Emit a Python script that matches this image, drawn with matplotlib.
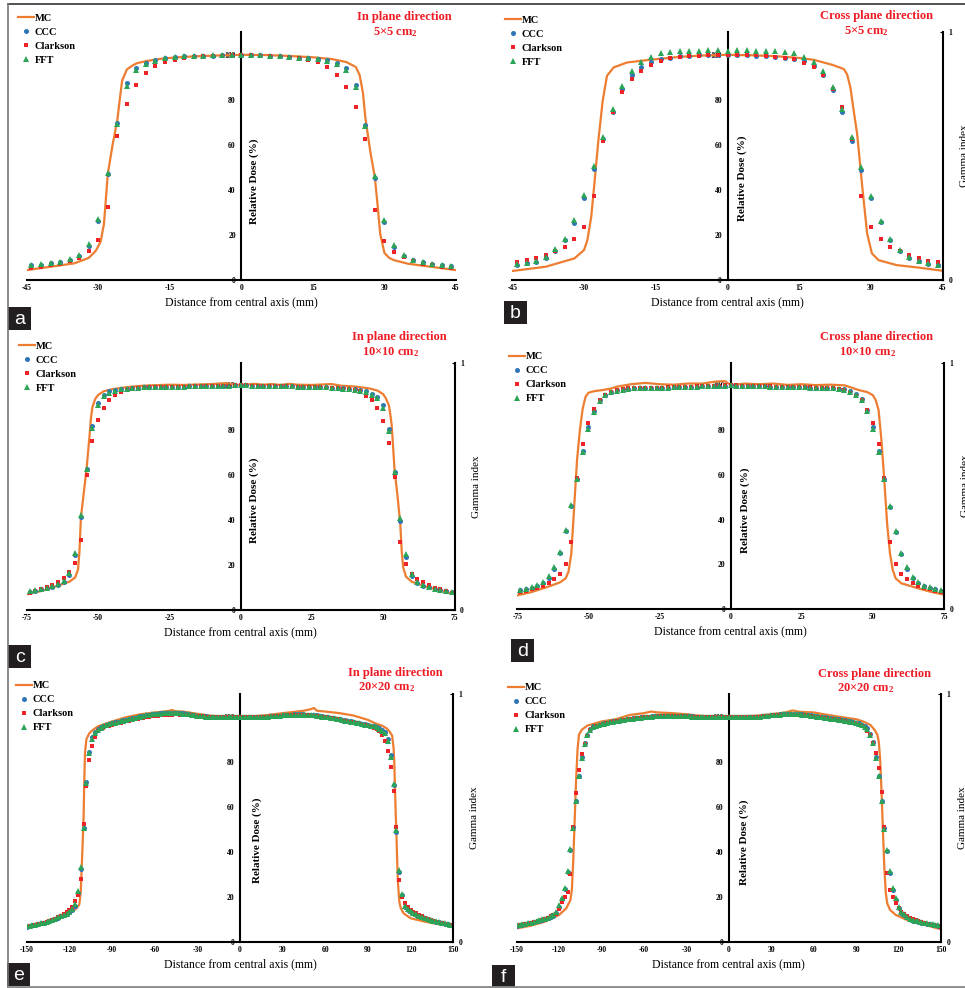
import matplotlib.pyplot as plt
import matplotlib.patches as patches
from matplotlib.lines import Line2D
import numpy as np

plt.rcParams['font.family'] = 'Liberation Serif'
plt.rcParams['font.weight'] = 'bold'
plt.rcParams['axes.unicode_minus'] = False
plt.rcParams['mathtext.fontset'] = 'custom'
plt.rcParams['mathtext.rm'] = 'Liberation Serif:bold'

W, H = 965, 988

# ---------------- 5x5 cm2 ----------------
x_5 = np.arange(-44, 45, 2)

# in plane
ccc_a = [6.5, 6.8, 7.4, 8.0, 9.0, 10.8, 14.9, 26.4, 46.9, 69.9,
         87.3, 94.0, 96.5, 97.5, 98.5, 99.0, 99.3, 99.4, 99.6, 99.6,
         99.7, 99.8, 100.0, 99.9, 99.7, 99.6, 99.4, 99.1, 98.8, 98.6,
         98.2, 97.6, 96.5, 94.0, 86.7, 68.9, 45.4, 25.7, 14.7, 10.6,
         8.8, 7.8, 7.2, 6.6, 6.3]
clk_a = [5.5, 5.9, 6.5, 7.2, 8.4, 9.9, 12.7, 17.7, 32.2, 63.9,
         78.0, 86.4, 91.9, 95.0, 96.9, 97.9, 98.7, 99.0, 99.3, 99.4,
         99.6, 99.8, 100.0, 99.7, 99.6, 99.4, 99.1, 98.8, 98.4, 97.8,
         96.6, 94.5, 91.2, 85.7, 76.8, 62.5, 31.1, 17.4, 12.5, 10.0,
         8.3, 7.2, 6.5, 5.9, 5.3]
fft_a = [6.6, 6.9, 7.5, 8.2, 9.3, 11.3, 16.0, 27.3, 47.5, 69.3,
         86.0, 93.3, 96.0, 97.3, 98.4, 99.0, 99.3, 99.5, 99.6, 99.7,
         99.7, 99.8, 100.0, 99.9, 99.8, 99.6, 99.4, 99.1, 98.8, 98.5,
         98.0, 97.3, 96.0, 93.3, 85.8, 68.5, 46.3, 26.7, 15.5, 10.9,
         9.0, 7.9, 7.3, 6.7, 6.4]
mc_a_x = [-45, -40, -35, -32, -30.5, -29.5, -28.8, -28, -27, -26,
          -25.5, -25, -24, -23, -22, -20, -17, -14, -10, -5,
          0, 5, 10, 15, 19, 22, 24, 24.8, 25.5, 26,
          27, 28, 28.6, 29.1, 30, 31, 32, 35, 40, 45]
mc_a = [4.4, 5.9, 7.4, 9.8, 13, 17, 25, 47, 60, 71,
        80, 88.5, 93.5, 95, 96.2, 97.2, 98.2, 98.8, 99.3, 99.7,
        100, 99.9, 99.5, 98.9, 98.1, 96.8, 94.6, 91, 83, 72,
        57.5, 45.4, 32.4, 20.6, 12, 9.8, 8.8, 7.2, 5.8, 4.4]

# cross plane
ccc_b = [6.6, 7.4, 8.1, 9.9, 13.0, 17.7, 25.5, 36.4, 49.1, 62.8,
         74.6, 84.7, 90.9, 94.7, 96.8, 98.1, 98.8, 99.3, 99.6, 99.7,
         99.7, 99.9, 100.0, 99.9, 99.7, 99.6, 99.4, 99.1, 98.8, 98.2,
         97.2, 95.0, 91.0, 84.5, 74.6, 61.9, 49.0, 36.4, 25.7, 17.7,
         13.0, 9.9, 8.3, 7.2, 6.5]
clk_b = [7.8, 8.7, 9.9, 11.2, 13.0, 14.7, 18.1, 23.6, 37.2, 61.7,
         74.5, 83.6, 89.1, 92.9, 95.4, 97.2, 98.4, 99.0, 99.4, 99.6,
         99.9, 100.0, 100.1, 100.0, 99.9, 99.7, 99.4, 99.1, 98.7, 98.1,
         96.5, 94.4, 91.0, 84.8, 76.7, 62.7, 37.2, 23.6, 18.0, 14.6,
         12.8, 11.1, 9.6, 8.6, 7.8]
fft_b = [6.9, 7.7, 8.6, 10.3, 13.6, 18.4, 26.5, 37.6, 50.6, 63.6,
         76.0, 86.0, 92.8, 96.6, 99.0, 100.7, 101.2, 101.5, 101.8, 101.8,
         102.0, 102.1, 101.8, 102.0, 102.1, 101.8, 101.8, 101.5, 101.2, 100.6,
         99.1, 97.0, 92.8, 85.8, 76.0, 63.4, 50.4, 37.5, 26.3, 18.4,
         13.3, 10.3, 8.4, 7.4, 6.8]
mc_b_x = [-45, -38, -32, -30, -29.3, -28.5, -27.9, -27, -26.1, -25.2,
          -23.8, -21, -17, -10, -5, 0, 5, 10, 15, 18,
          22, 24.3, 25, 25.7, 26.4, 27.1, 28.2, 29.2, 30.2, 31.6,
          35.4, 40, 45]
mc_b = [4.0, 5.9, 9.6, 13.3, 17.7, 28, 41.3, 62, 79.6, 90.7,
        94.4, 96.6, 97.6, 99.1, 99.7, 100, 99.8, 99.4, 98.6, 97.8,
        95.5, 93.7, 91.4, 85.5, 75, 65, 41, 20.6, 11.8, 8.8,
        6.6, 5.5, 4.1]

# ---------------- 10x10 cm2 ----------------
x_10 = np.arange(-74, 75, 2)

# in plane
ccc_c = [8.1, 8.6, 9.2, 9.8, 10.4, 11.1, 12.4, 15.6, 24.4, 41.2,
         62.8, 81.8, 92.1, 95.7, 97.3, 97.8, 98.2, 98.5, 98.8,
         98.9, 99.0, 99.1, 99.2, 99.2, 99.3, 99.3, 99.4, 99.4,
         99.5, 99.5, 99.6, 99.6, 99.7, 99.7, 99.8, 99.8, 99.9,
         100.0,
         99.9, 99.8, 99.8, 99.7, 99.7, 99.6, 99.6, 99.5, 99.5,
         99.4, 99.3, 99.3, 99.2, 99.1, 99.0, 98.9, 98.8, 98.6,
         98.4, 98.2, 97.8, 97.2, 96.2, 94.6, 91.0, 80.6, 61.5, 39.7,
         23.7, 15.1, 12.1, 10.8, 10.1, 9.3, 8.9, 8.4, 7.9]
clk_c = [7.7, 8.4, 9.2, 10.1, 11.0, 12.3, 14.1, 16.7, 20.9, 31.0,
         60.1, 75.1, 84.4, 89.9, 93.6, 95.7, 96.9, 97.8, 98.4,
         98.7, 98.9, 99.0, 99.1, 99.2, 99.2, 99.3, 99.3, 99.4,
         99.4, 99.5, 99.5, 99.6, 99.7, 99.7, 99.8, 99.8, 99.9,
         100.0,
         99.9, 99.8, 99.8, 99.7, 99.7, 99.6, 99.5, 99.5, 99.4,
         99.3, 99.3, 99.2, 99.1, 99.0, 98.9, 98.8, 98.6, 98.4,
         98.2, 97.8, 97.2, 95.4, 93.3, 89.8, 83.9, 74.4, 59.3, 30.1,
         20.6, 16.0, 13.9, 12.3, 11.0, 9.9, 9.2, 8.4, 7.7]
fft_c = [8.3, 8.8, 9.4, 10.0, 10.6, 11.4, 12.9, 16.3, 25.5, 42.2,
         62.8, 81.0, 91.0, 95.0, 96.6, 97.6, 98.1, 98.5, 98.8,
         98.9, 99.0, 99.1, 99.2, 99.2, 99.3, 99.3, 99.4, 99.4,
         99.5, 99.5, 99.6, 99.6, 99.7, 99.7, 99.8, 99.8, 99.9,
         100.0,
         99.9, 99.8, 99.8, 99.7, 99.7, 99.6, 99.6, 99.5, 99.5,
         99.4, 99.3, 99.3, 99.2, 99.1, 99.0, 98.9, 98.7, 98.5,
         98.3, 98.0, 97.6, 96.9, 95.8, 94.1, 90.0, 79.7, 61.5, 40.9,
         24.7, 15.9, 12.3, 10.9, 10.2, 9.4, 9.0, 8.5, 8.0]
mc_c_x = [-75, -70, -65, -60, -58, -57, -56.5, -56, -55, -54,
          -53, -52.5, -52, -51, -50, -48, -45, -40, -35, -30,
          -25, -20, -15, -10, -7, -5, -3, 0, 3, 5,
          8, 11, 14, 17, 20, 25, 30, 32, 35, 40,
          45, 48, 50, 51, 52, 52.5, 53, 54, 55, 56,
          56.5, 57, 58, 60, 65, 70, 75]
mc_c = [7, 8.4, 10.4, 12.6, 14.5, 18, 26, 41, 52, 63,
        77, 85, 90, 93.8, 95.6, 97.3, 98.2, 99.1, 99.7, 100,
        100.2, 100.1, 100.3, 100.5, 100.8, 100.9, 100.4, 100, 100.4, 100.6,
        100.2, 100.5, 100.1, 100.6, 100.2, 100.1, 100.4, 100.5, 99.8, 99.4,
        98.6, 97.6, 96, 94, 91, 87, 82, 62, 51, 38,
        26, 19, 14.8, 12.6, 10.4, 8.6, 7.1]

# cross plane
ccc_d = [8.5, 8.9, 9.7, 10.5, 11.9, 14.0, 18.1, 25.0, 34.9, 46.1,
         58.2, 70.7, 81.1, 88.4, 93.2, 95.5, 96.9, 97.6, 98.1,
         98.3, 98.5, 98.6, 98.6, 98.7, 98.8, 98.8, 98.9, 99.0,
         99.0, 99.1, 99.2, 99.3, 99.4, 99.5, 99.6, 99.7, 99.8,
         100.0,
         99.8, 99.7, 99.6, 99.5, 99.5, 99.4, 99.3, 99.3, 99.2,
         99.1, 99.1, 99.0, 99.0, 98.9, 98.9, 98.8, 98.7, 98.6,
         98.4, 98.1, 97.3, 96.1, 93.8, 88.9, 81.1, 70.6, 58.0, 45.5,
         34.5, 24.5, 18.1, 14.1, 11.6, 10.3, 9.5, 8.9, 8.3]
clk_d = [7.7, 8.2, 8.9, 9.7, 10.5, 11.9, 13.5, 15.9, 20.1, 29.9,
         58.5, 73.8, 83.1, 89.2, 93.3, 95.7, 97.0, 97.9, 98.3,
         98.5, 98.6, 98.7, 98.7, 98.8, 98.9, 98.9, 99.0, 99.1,
         99.1, 99.2, 99.3, 99.4, 99.5, 99.6, 99.7, 99.8, 99.9,
         100.0,
         99.9, 99.8, 99.7, 99.6, 99.5, 99.5, 99.4, 99.3, 99.3,
         99.2, 99.1, 99.1, 99.0, 99.0, 98.9, 98.8, 98.7, 98.5,
         98.2, 97.6, 96.7, 95.2, 93.2, 88.9, 83.1, 73.8, 58.5, 30.2,
         20.1, 15.9, 13.7, 11.9, 10.5, 9.7, 8.9, 8.3, 7.6]
fft_d = [8.7, 9.2, 10.0, 10.9, 12.4, 14.7, 18.9, 25.7, 35.4, 46.6,
         58.2, 70.3, 80.6, 88.0, 93.0, 95.4, 96.8, 97.5, 98.0,
         98.3, 98.5, 98.6, 98.6, 98.7, 98.8, 98.8, 98.9, 99.0,
         99.0, 99.1, 99.2, 99.3, 99.4, 99.5, 99.6, 99.7, 99.8,
         100.0,
         99.8, 99.7, 99.6, 99.5, 99.5, 99.4, 99.3, 99.3, 99.2,
         99.1, 99.1, 99.0, 99.0, 98.9, 98.9, 98.8, 98.7, 98.6,
         98.3, 97.9, 97.0, 95.8, 93.4, 88.4, 80.6, 70.3, 58.2, 46.0,
         35.0, 25.2, 18.7, 14.6, 12.0, 10.6, 9.8, 9.1, 8.5]
mc_d_x = [-75, -70, -65, -60, -58, -57, -56, -55, -54, -53,
          -52, -51, -50, -48, -45, -42, -40, -35, -30, -25,
          -20, -15, -10, -5, -2, 0, 5, 10, 15, 20,
          25, 30, 35, 40, 42, 45, 48, 50, 51, 52,
          53, 54, 55, 56, 57, 58, 60, 65, 70, 75]
mc_d = [6.2, 7.7, 9.7, 12, 13.8, 16.8, 25, 45.8, 66.6, 80,
        89.6, 94.8, 96.6, 97.3, 97.8, 98.5, 99.3, 100.4, 101, 100.4,
        100.2, 100.7, 100.7, 101.6, 101.8, 100, 100.7, 100.4, 100.7, 100.1,
        100.4, 100, 100.2, 99.9, 99.1, 97.8, 96.9, 95.5, 93.3, 88.9,
        75.5, 57.7, 38.3, 25, 17.5, 13.8, 11.6, 9.7, 7.9, 6.5]

# ---------------- 20x20 cm2 ----------------
x_20 = np.arange(-150, 151, 2)

# in plane
ccc_e = [6.7, 7.0, 7.2, 7.5, 7.8, 8.1, 8.4, 8.8, 9.2, 9.7,
         10.2, 10.7, 11.2, 11.7, 12.3, 13.0, 14.0, 16.0, 21.5, 32.4,
         50.4, 71.1, 84.4, 90.8, 93.0,
         94.5, 95.3, 95.9, 96.4, 96.8, 97.1, 97.4, 97.7, 98.0, 98.3,
         98.6, 98.9, 99.2, 99.5, 99.8, 100.1, 100.4, 100.6, 100.8, 101.0,
         101.2, 101.3, 101.4, 101.5, 101.6, 101.6, 101.7, 101.7, 101.6, 101.5,
         101.4, 101.2, 101.0, 100.8, 100.6, 100.4, 100.3, 100.2, 100.1, 100.0,
         100.0, 99.9, 99.9, 99.9, 99.9, 100.0, 100.0, 100.0, 100.0, 100.0,
         100.0,
         100.0, 100.0, 100.0, 100.0, 100.0, 100.0, 100.0, 100.0, 100.0, 100.0,
         100.1, 100.2, 100.3, 100.4, 100.5, 100.6, 100.7, 100.8, 100.9, 100.9,
         100.9, 100.9, 100.8, 100.8, 100.7, 100.6, 100.5, 100.3, 100.1, 99.9,
         99.7, 99.5, 99.3, 99.0, 98.8, 98.5, 98.3, 98.0, 97.8, 97.5,
         97.3, 97.0, 96.8, 96.5, 96.3, 96.0, 95.7, 95.3, 94.8, 94.0,
         93.0, 89.9, 83.0, 69.6, 48.9, 31.1, 20.7, 15.6, 14.1, 13.3,
         12.6, 11.9, 11.4, 10.9, 10.4, 10.0, 9.6, 9.2, 8.9, 8.6,
         8.3, 8.0, 7.7, 7.4, 7.1]
clk_e = [6.5, 6.8, 7.1, 7.4, 7.7, 8.0, 8.4, 8.8, 9.3, 9.8,
         10.3, 10.9, 11.5, 12.2, 13.0, 14.0, 15.6, 18.0, 20.7, 27.9,
         52.1, 69.3, 80.7, 87.0, 90.8,
         93.6, 94.5, 95.1, 95.6, 96.0, 96.4, 96.7, 97.0, 97.3, 97.6,
         97.9, 98.2, 98.5, 98.8, 99.0, 99.3, 99.5, 99.7, 99.9, 100.1,
         100.3, 100.4, 100.5, 100.6, 100.7, 100.8, 100.8, 100.9, 100.9, 100.8,
         100.8, 100.7, 100.6, 100.5, 100.4, 100.3, 100.2, 100.1, 100.0, 100.0,
         99.9, 99.9, 99.9, 99.9, 99.9, 100.0, 100.0, 100.0, 100.0, 100.0,
         100.0,
         100.0, 100.0, 100.0, 100.0, 100.0, 100.0, 100.0, 100.0, 100.0, 100.0,
         100.1, 100.1, 100.2, 100.3, 100.4, 100.4, 100.5, 100.5, 100.6, 100.6,
         100.6, 100.6, 100.5, 100.5, 100.4, 100.3, 100.2, 100.0, 99.8, 99.6,
         99.4, 99.2, 99.0, 98.7, 98.5, 98.2, 98.0, 97.7, 97.5, 97.2,
         97.0, 96.7, 96.4, 96.1, 95.8, 95.4, 95.0, 94.5, 93.6, 91.6,
         89.3, 84.9, 77.8, 67.0, 50.8, 27.4, 19.7, 17.3, 15.6, 14.1,
         13.3, 12.6, 11.9, 11.3, 10.7, 10.2, 9.7, 9.3, 8.9, 8.5,
         8.1, 7.8, 7.5, 7.2, 6.9]
fft_e = [6.8, 7.1, 7.3, 7.6, 7.9, 8.2, 8.5, 8.9, 9.3, 9.8,
         10.3, 10.8, 11.3, 11.9, 12.5, 13.3, 14.5, 16.8, 22.5, 33.3,
         50.5, 70.4, 83.7, 90.0, 92.5,
         94.2, 95.1, 95.8, 96.3, 96.7, 97.0, 97.3, 97.6, 97.9, 98.2,
         98.5, 98.8, 99.1, 99.4, 99.7, 100.0, 100.3, 100.5, 100.7, 100.9,
         101.1, 101.2, 101.3, 101.4, 101.5, 101.5, 101.6, 101.6, 101.5, 101.4,
         101.3, 101.1, 100.9, 100.7, 100.5, 100.3, 100.2, 100.1, 100.0, 100.0,
         99.9, 99.9, 99.9, 99.9, 99.9, 100.0, 100.0, 100.0, 100.0, 100.0,
         100.0,
         100.0, 100.0, 100.0, 100.0, 100.0, 100.0, 100.0, 100.0, 100.0, 100.0,
         100.1, 100.2, 100.3, 100.4, 100.5, 100.6, 100.7, 100.7, 100.8, 100.8,
         100.8, 100.8, 100.7, 100.7, 100.6, 100.5, 100.4, 100.2, 100.0, 99.8,
         99.6, 99.4, 99.2, 98.9, 98.7, 98.4, 98.2, 97.9, 97.7, 97.4,
         97.2, 96.9, 96.7, 96.4, 96.2, 95.9, 95.6, 95.2, 94.6, 93.7,
         92.5, 89.3, 82.0, 69.9, 49.4, 32.0, 21.3, 16.0, 14.4, 13.5,
         12.8, 12.1, 11.6, 11.1, 10.6, 10.2, 9.8, 9.4, 9.1, 8.8,
         8.5, 8.2, 7.9, 7.6, 7.3]
mc_e_x = [-150, -140, -130, -120, -115, -113, -112, -111, -110, -109.5,
          -109, -108, -106, -104, -100, -90, -80, -70, -60, -55,
          -50, -48, -45, -40, -30, -20, -10, 0, 10, 20,
          30, 40, 45, 50, 52, 54, 55, 60, 70, 80,
          90, 95, 100, 103, 105, 107, 108, 108.5, 109, 109.5,
          110, 110.5, 111, 112, 113, 115, 120, 130, 140, 150]
mc_e = [6.2, 7.4, 9.3, 12.3, 14.8, 16.5, 22, 38, 55, 72,
        84, 90, 92.5, 93.8, 95.6, 97.8, 99.7, 101, 101.8, 102.1,
        102.5, 102.9, 102.3, 102.2, 101.2, 100.3, 100, 100, 100.1, 100.7,
        101.5, 102.2, 102.6, 103.3, 103.8, 102.6, 102.5, 102.2, 101.5, 100.4,
        98.5, 97, 95.9, 94.8, 93.5, 91.5, 86, 80, 68, 57,
        48, 37, 27, 18, 15, 12.6, 10.4, 8.9, 7.7, 6.7]

# cross plane
ccc_f = [7.1, 7.4, 7.6, 7.9, 8.1, 8.4, 8.7, 9.0, 9.4, 9.8,
         10.1, 10.5, 11.0, 11.6, 12.9, 15.6, 18.8, 23.3, 30.8, 40.7,
         50.8, 62.7, 73.8, 82.2, 88.1,
         91.9, 94.4, 95.6, 96.0, 96.3, 96.6, 96.9, 97.2, 97.5, 97.8,
         98.0, 98.2, 98.4, 98.6, 98.8, 99.0, 99.2, 99.4, 99.5, 99.6,
         99.7, 99.8, 100.0, 100.1, 100.2, 100.3, 100.4, 100.4, 100.4, 100.4,
         100.4, 100.4, 100.3, 100.3, 100.3, 100.3, 100.2, 100.1, 100.0, 100.0,
         100.0, 100.0, 100.0, 100.0, 100.0, 100.0, 100.0, 100.0, 100.0, 100.0,
         100.0,
         100.0, 100.0, 100.0, 100.0, 100.0, 100.0, 100.0, 100.0, 100.0, 100.0,
         100.0, 100.1, 100.2, 100.4, 100.6, 100.7, 100.8, 100.9, 101.0, 101.0,
         101.0, 101.0, 101.0, 101.0, 101.0, 100.9, 100.8, 100.6, 100.5, 100.3,
         100.1, 99.9, 99.7, 99.6, 99.4, 99.2, 99.0, 98.9, 98.7, 98.5,
         98.3, 98.0, 97.8, 97.5, 97.3, 96.9, 96.3, 95.6, 94.7, 92.3,
         88.6, 82.2, 73.6, 62.7, 50.4, 40.4, 30.4, 23.0, 18.5, 15.1,
         12.9, 11.8, 10.9, 10.1, 9.4, 9.1, 8.8, 8.5, 8.2, 7.9,
         7.7, 7.5, 7.3, 7.1, 7.0]
clk_f = [6.9, 7.2, 7.4, 7.7, 8.0, 8.3, 8.6, 8.9, 9.3, 9.7,
         10.1, 10.6, 11.2, 11.8, 12.5, 14.5, 17.5, 19.7, 22.0, 30.1,
         51.1, 66.2, 76.3, 83.3, 88.0,
         91.5, 93.8, 95.0, 95.6, 96.0, 96.4, 96.7, 97.0, 97.3, 97.6,
         97.8, 98.0, 98.2, 98.4, 98.6, 98.8, 99.0, 99.2, 99.4, 99.5,
         99.6, 99.7, 99.8, 99.9, 100.0, 100.1, 100.2, 100.2, 100.2, 100.2,
         100.2, 100.2, 100.2, 100.1, 100.1, 100.1, 100.0, 100.0, 100.0, 100.0,
         100.0, 100.0, 100.0, 100.0, 100.0, 100.0, 100.0, 100.0, 100.0, 100.0,
         100.0,
         100.0, 100.0, 100.0, 100.0, 100.0, 100.0, 100.0, 100.0, 100.0, 100.0,
         100.0, 100.1, 100.2, 100.3, 100.4, 100.5, 100.6, 100.7, 100.8, 100.8,
         100.8, 100.8, 100.8, 100.8, 100.7, 100.6, 100.5, 100.4, 100.2, 100.0,
         99.8, 99.6, 99.4, 99.3, 99.1, 98.9, 98.7, 98.5, 98.3, 98.1,
         97.9, 97.6, 97.3, 97.0, 96.7, 96.3, 95.7, 94.8, 93.7, 91.9,
         88.1, 83.7, 77.0, 66.4, 50.8, 30.4, 23.0, 19.7, 17.3, 14.8,
         13.3, 12.3, 11.4, 10.7, 10.0, 9.5, 9.0, 8.6, 8.2, 7.9,
         7.6, 7.3, 7.1, 6.9, 6.7]
fft_f = [7.2, 7.5, 7.7, 8.0, 8.2, 8.5, 8.8, 9.1, 9.5, 9.9,
         10.3, 10.7, 11.2, 11.9, 13.3, 16.2, 19.4, 24.0, 31.5, 41.0,
         50.5, 62.5, 73.5, 81.8, 87.8,
         91.6, 94.2, 95.5, 95.9, 96.2, 96.5, 96.8, 97.1, 97.4, 97.7,
         97.9, 98.1, 98.3, 98.5, 98.7, 98.9, 99.1, 99.3, 99.4, 99.5,
         99.6, 99.7, 99.9, 100.0, 100.1, 100.2, 100.3, 100.3, 100.3, 100.3,
         100.3, 100.3, 100.2, 100.2, 100.2, 100.2, 100.1, 100.0, 100.0, 100.0,
         100.0, 100.0, 100.0, 100.0, 100.0, 100.0, 100.0, 100.0, 100.0, 100.0,
         100.0,
         100.0, 100.0, 100.0, 100.0, 100.0, 100.0, 100.0, 100.0, 100.0, 100.0,
         100.0, 100.1, 100.2, 100.3, 100.5, 100.6, 100.7, 100.8, 100.9, 100.9,
         100.9, 100.9, 100.9, 100.9, 100.9, 100.8, 100.7, 100.5, 100.4, 100.2,
         100.0, 99.8, 99.6, 99.5, 99.3, 99.1, 98.9, 98.8, 98.6, 98.4,
         98.2, 97.9, 97.7, 97.4, 97.2, 96.8, 96.2, 95.4, 94.4, 91.9,
         88.1, 81.8, 73.4, 62.4, 50.1, 40.9, 31.3, 24.0, 19.2, 15.6,
         13.3, 12.1, 11.1, 10.3, 9.6, 9.3, 9.0, 8.7, 8.4, 8.1,
         7.9, 7.7, 7.5, 7.3, 7.2]
mc_f_x = [-150, -140, -130, -120, -115, -112, -111, -110, -109, -108,
          -107, -106, -104, -100, -90, -80, -70, -60, -55, -50,
          -40, -30, -20, -10, 0, 10, 20, 30, 40, 45,
          50, 60, 70, 80, 90, 95, 100, 103, 105, 106,
          107, 108, 109, 110, 111, 112, 114, 118, 125, 135,
          150]
mc_f = [5.9, 7.1, 8.9, 11.9, 14.8, 18.5, 23, 36.3, 54.1, 71.9,
        85.2, 91.9, 94.1, 96, 97.8, 98.8, 100.7, 101.5, 102.2, 101.8,
        101.5, 101, 100.3, 100, 100, 100, 100.4, 101, 101.8, 102.7,
        102.1, 101.8, 100.7, 99.7, 98.8, 97.8, 96.3, 94.1, 91.9, 88.9,
        80.7, 65.9, 48.1, 31.9, 21.5, 17, 14.1, 11.9, 9.9, 8.1,
        5.5]

# ----------------------------------------
# panel layout, pixel boxes: (left, top, right, bottom)
panels = [
    dict(x=x_5, ccc=ccc_a, clk=clk_a, fft=fft_a, mc_x=mc_a_x, mc=mc_a,
         lim=45, step=15, box=(26.7, 32.3, 456, 280), gamma=False,
         title='In plane direction', size='5×5', t1=(404, 17.3), t2=(395, 32),
         leg=(18, 18), letter='a', lbox=(8, 307), dose=(44, 13)),
    dict(x=x_5, ccc=ccc_b, clk=clk_b, fft=fft_b, mc_x=mc_b_x, mc=mc_b,
         lim=45, step=15, box=(512.3, 32.3, 942.7, 280), gamma=True,
         title='Cross plane direction', size='5×5', t1=(876, 16), t2=(866, 30.7),
         leg=(505, 20), letter='b', lbox=(504, 301), dose=(45, 15)),
    dict(x=x_10, ccc=ccc_c, clk=clk_c, fft=fft_c, mc_x=mc_c_x, mc=mc_c,
         lim=75, step=25, box=(26.7, 362.7, 454.5, 610), gamma=True,
         title='In plane direction', size='10×10', t1=(399, 336.7), t2=(390.5, 351.7),
         leg=(19, 346), letter='c', lbox=(8, 645), dose=(49, 14)),
    dict(x=x_10, ccc=ccc_d, clk=clk_d, fft=fft_d, mc_x=mc_d_x, mc=mc_d,
         lim=75, step=25, box=(517.3, 362.7, 944, 609.3), gamma=True,
         title='Cross plane direction', size='10×10', t1=(877, 337.3), t2=(868, 352.3),
         leg=(509, 356.7), letter='d', lbox=(511, 639), dose=(44, 15)),
    dict(x=x_20, ccc=ccc_e, clk=clk_e, fft=fft_e, mc_x=mc_e_x, mc=mc_e,
         lim=150, step=30, box=(26.7, 694, 453.3, 941.7), gamma=True,
         title='In plane direction', size='20×20', t1=(395.5, 672.7), t2=(387, 686.7),
         leg=(16, 685.7), letter='e', lbox=(7, 963), dose=(45, 17)),
    dict(x=x_20, ccc=ccc_f, clk=clk_f, fft=fft_f, mc_x=mc_f_x, mc=mc_f,
         lim=150, step=30, box=(516.7, 694, 941, 941.7), gamma=True,
         title='Cross plane direction', size='20×20', t1=(874, 674), t2=(866, 688.3),
         leg=(508, 687.7), letter='f', lbox=(492, 965), dose=(44, 15)),
]

ORANGE = '#ED7D31'
BLUE = '#2E75B6'
RED = '#EE2327'
GREEN = '#2BA457'
TITLE_RED = '#EE1C25'

fig = plt.figure(figsize=(W / 100, H / 100), dpi=100)

for p in panels:
    l, t, r, b = p['box']
    ax = fig.add_axes([l / W, 1 - b / H, (r - l) / W, (b - t) / H])
    ax.set_xlim(-p['lim'], p['lim'])
    ax.set_ylim(0, 110)

    ax.plot(p['mc_x'], p['mc'], color=ORANGE, lw=1.6, label='MC', zorder=3)
    ax.plot(p['x'], p['ccc'], 'o', color=BLUE, ms=3.6, mew=0, label='CCC', zorder=4)
    ax.plot(p['x'], p['clk'], 's', color=RED, ms=3.0, mew=0, label='Clarkson', zorder=4)
    ax.plot(p['x'], p['fft'], '^', color=GREEN, ms=3.8, mew=0, label='FFT', zorder=5)

    # axes cross at the central axis
    for s in ['top', 'right']:
        ax.spines[s].set_visible(False)
    ax.spines['left'].set_position(('data', 0))
    ax.spines['left'].set_linewidth(1.5)
    ax.spines['bottom'].set_linewidth(1.5)
    ax.set_xticks(np.arange(-p['lim'], p['lim'] + 1, p['step']))
    ax.set_yticks([0, 20, 40, 60, 80, 100])
    ax.tick_params(length=0, labelsize=5.5, pad=3)
    ax.tick_params(axis='y', pad=4)
    ax.set_xlabel('Distance from central axis (mm)', fontsize=8.5, labelpad=3)

    dy, doff = p['dose']
    ax.annotate('Relative Dose (%)', xy=(0, dy), xytext=(doff * 0.72, 0),
                textcoords='offset points', rotation=90, fontsize=8,
                ha='center', va='center')

    if p['gamma']:
        ax2 = ax.twinx()
        ax2.set_ylim(0, 1)
        for s in ['top', 'left', 'bottom']:
            ax2.spines[s].set_visible(False)
        ax2.spines['right'].set_linewidth(1.5)
        ax2.set_yticks([0, 1])
        ax2.tick_params(length=2, direction='in', labelsize=5.5, pad=4)
        ax2.set_ylabel('Gamma index', fontsize=8, labelpad=5.5)

    lx, ly = p['leg']
    ax.legend(loc='upper left', bbox_to_anchor=(lx / W, 1 - (ly - 4.5) / H),
              bbox_transform=fig.transFigure, frameon=False, fontsize=7.5,
              handlelength=1.5, handletextpad=0.1, labelspacing=0.45,
              borderpad=0, borderaxespad=0)

    fig.text(p['t1'][0] / W, 1 - p['t1'][1] / H, p['title'], color=TITLE_RED,
             fontsize=9, ha='center', va='center')
    fig.text(p['t2'][0] / W, 1 - p['t2'][1] / H,
             p['size'] + r' cm$\mathregular{_2}$', color=TITLE_RED,
             fontsize=9, ha='center', va='center')

    # panel letter
    bx, by = p['lbox']
    fig.add_artist(patches.Rectangle((bx / W, 1 - (by + 23) / H), 23 / W, 23 / H,
                                     transform=fig.transFigure, color='#231F20', lw=0))
    fig.text((bx + 11.5) / W, 1 - (by + 12) / H, p['letter'], color='white',
             fontsize=14, family='Liberation Sans', fontweight='normal',
             ha='center', va='center')

# frame lines round the figure
fig.add_artist(Line2D([8 / W, 1], [1 - 4 / H, 1 - 4 / H], color='#333333', lw=1.2,
                      transform=fig.transFigure))
fig.add_artist(Line2D([8 / W, 8 / W], [0, 1 - 4 / H], color='#777777', lw=1.2,
                      transform=fig.transFigure))
fig.add_artist(Line2D([8 / W, 1], [1 - 986.5 / H, 1 - 986.5 / H], color='#8a8a8a', lw=2,
                      transform=fig.transFigure))

fig.savefig('out.png', dpi=100)
